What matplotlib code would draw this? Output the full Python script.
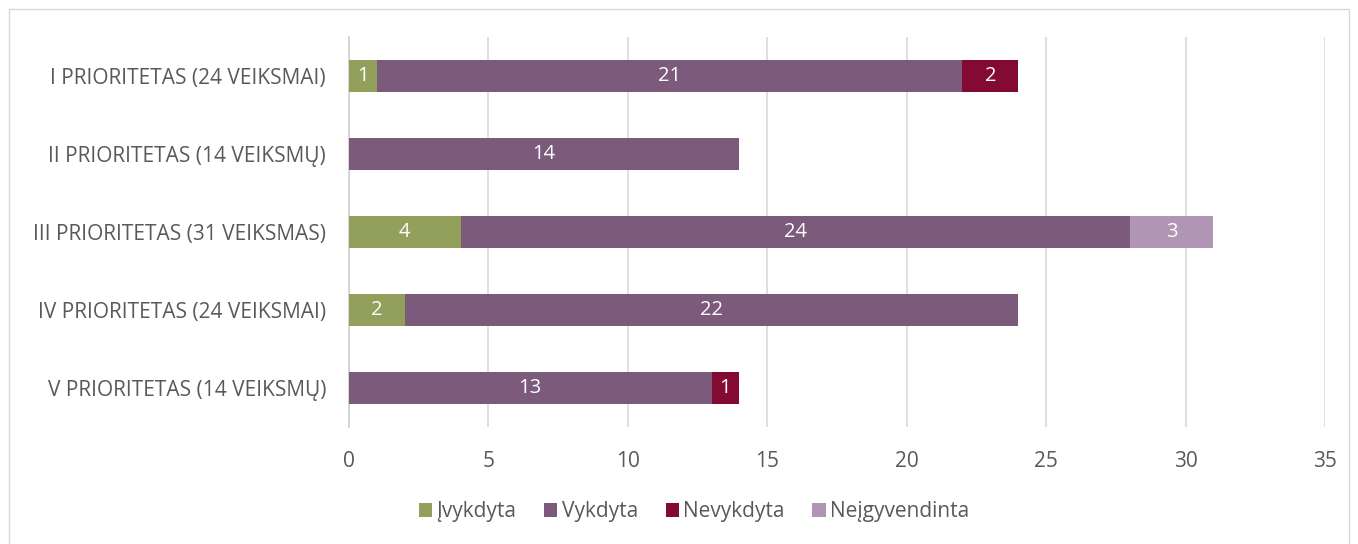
import numpy as np
import matplotlib.pyplot as plt
from matplotlib.patches import Rectangle

categories = ['I PRIORITETAS (24 VEIKSMAI)', 'II PRIORITETAS (14 VEIKSMŲ)',
              'III PRIORITETAS (31 VEIKSMAS)', 'IV PRIORITETAS (24 VEIKSMAI)',
              'V PRIORITETAS (14 VEIKSMŲ)']
series_names = ['Įvykdyta', 'Vykdyta', 'Nevykdyta', 'Neįgyvendinta']
ivykdyta = [1, 0, 4, 2, 0]
vykdyta = [21, 14, 24, 22, 13]
nevykdyta = [2, 0, 0, 0, 1]
neigyvendinta = [0, 0, 3, 0, 0]
colors = ['#93A05B', '#7B5A7B', '#820A33', '#B195B4']

plt.rcParams['font.family'] = ['Open Sans', 'DejaVu Sans']

fig = plt.figure(figsize=(13.58, 5.44), dpi=100)
fig.patches.append(Rectangle((9 / 1358, -0.01), 1340 / 1358, 1 - 9 / 544 + 0.01,
                             transform=fig.transFigure, fill=False,
                             edgecolor='#d9d9d9', linewidth=1))
ax = fig.add_axes([349 / 1358, 1 - 427 / 544, 976 / 1358, 390 / 544])

y = np.arange(len(categories))
left = np.zeros(len(categories))
for name, vals, c in zip(series_names, [ivykdyta, vykdyta, nevykdyta, neigyvendinta], colors):
    vals = np.array(vals, dtype=float)
    bars = ax.barh(y, vals, left=left, height=0.41, color=c, label=name, zorder=3)
    for b, v in zip(bars, vals):
        if v > 0:
            ax.text(b.get_x() + b.get_width() / 2, b.get_y() + b.get_height() / 2,
                    f'{int(v)}', ha='center', va='center', color='white',
                    fontsize=14.5, zorder=4)
    left += vals

ax.set_xlim(0, 35)
ax.set_ylim(len(categories) - 0.5, -0.5)
ax.set_xticks(range(0, 36, 5))
ax.set_yticks(y)
ax.set_yticklabels(categories)
ax.tick_params(axis='both', length=0, labelsize=15, colors='#595959')
ax.tick_params(axis='y', pad=16.5)
ax.tick_params(axis='x', pad=17)
ax.grid(axis='x', color='#d9d9d9', linewidth=1.2, zorder=0)
for s in ['top', 'right', 'bottom']:
    ax.spines[s].set_visible(False)
ax.spines['left'].set_color('#d0d0d0')
ax.spines['left'].set_linewidth(1.2)

ax.legend(loc='center', bbox_to_anchor=(694 / 1358, 1 - 512 / 544),
          bbox_transform=fig.transFigure, ncol=4, frameon=False,
          fontsize=15, labelcolor='#595959', handlelength=0.63,
          handleheight=0.63, handletextpad=0.2, columnspacing=1.34)

fig.savefig('out.png', dpi=100)
